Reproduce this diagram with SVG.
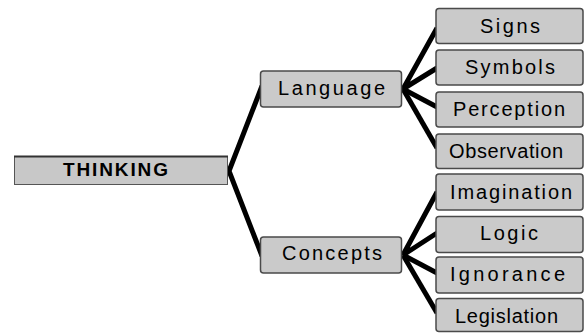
<svg xmlns="http://www.w3.org/2000/svg" width="585" height="333" viewBox="0 0 585 333">
<style>
.bg{fill:#ffffff}
.box{fill:#cacaca;stroke:#4a4a4a;stroke-width:1.5}
.root{fill:#c8c8c8;stroke:#555;stroke-width:1}
.t{font-family:"Liberation Sans",Arial,sans-serif;font-size:20px;fill:#000;text-anchor:start}
.tb{font-family:"Liberation Sans",Arial,sans-serif;font-size:19px;font-weight:bold;fill:#000}
.c{fill:none;stroke:#000;stroke-width:5;stroke-linecap:butt;stroke-linejoin:miter}
</style>
<rect class="bg" x="0" y="0" width="585" height="333"/>
<g id="connectors">
<path class="c" d="M262,86 L229,171 L262,256"/>
<path class="c" d="M437,28 L403,89 L437,68"/>
<path class="c" d="M403,89 L437,107"/>
<path class="c" d="M403,89 L437,148"/>
<path class="c" d="M437,192 L403,255 L437,233"/>
<path class="c" d="M403,255 L437,273"/>
<path class="c" d="M403,255 L437,313"/>
</g>
<g id="thinking">
<rect class="root" x="14.5" y="156.5" width="213" height="28"/>
<line x1="14" y1="156.5" x2="228" y2="156.5" stroke="#333" stroke-width="2"/>
<text class="tb" x="63" y="176" textLength="105" lengthAdjust="spacing">THINKING</text>
</g>
<g id="language">
<rect class="box" x="260.5" y="71" width="141" height="36" rx="3"/>
<text class="t" x="278" y="94.5" textLength="107" lengthAdjust="spacing">Language</text>
</g>
<g id="concepts">
<rect class="box" x="260.5" y="237" width="141" height="36" rx="3"/>
<text class="t" x="282" y="260" textLength="100" lengthAdjust="spacing">Concepts</text>
</g>
<g id="signs">
<rect class="box" x="436" y="8.5" width="147" height="35" rx="3"/>
<text class="t" x="480" y="33" textLength="60" lengthAdjust="spacing">Signs</text>
</g>
<g id="symbols">
<rect class="box" x="436" y="50" width="147" height="35" rx="3"/>
<text class="t" x="465" y="74" textLength="90" lengthAdjust="spacing">Symbols</text>
</g>
<g id="perception">
<rect class="box" x="436" y="92" width="147" height="35" rx="3"/>
<text class="t" x="453" y="115.5" textLength="112" lengthAdjust="spacing">Perception</text>
</g>
<g id="observation">
<rect class="box" x="436" y="134" width="147" height="34.5" rx="3"/>
<text class="t" x="449" y="157.5" textLength="114" lengthAdjust="spacing">Observation</text>
</g>
<g id="imagination">
<rect class="box" x="436" y="174" width="147" height="36" rx="3"/>
<text class="t" x="450" y="198.5" textLength="122" lengthAdjust="spacing">Imagination</text>
</g>
<g id="logic">
<rect class="box" x="436" y="216.5" width="147" height="36" rx="3"/>
<text class="t" x="480" y="240" textLength="58" lengthAdjust="spacing">Logic</text>
</g>
<g id="ignorance">
<rect class="box" x="436" y="257" width="147" height="36" rx="3"/>
<text class="t" x="450" y="281" textLength="115" lengthAdjust="spacing">Ignorance</text>
</g>
<g id="legislation">
<rect class="box" x="436" y="298.5" width="147" height="33" rx="3"/>
<text class="t" x="455" y="322.5" textLength="103" lengthAdjust="spacing">Legislation</text>
</g>
</svg>
